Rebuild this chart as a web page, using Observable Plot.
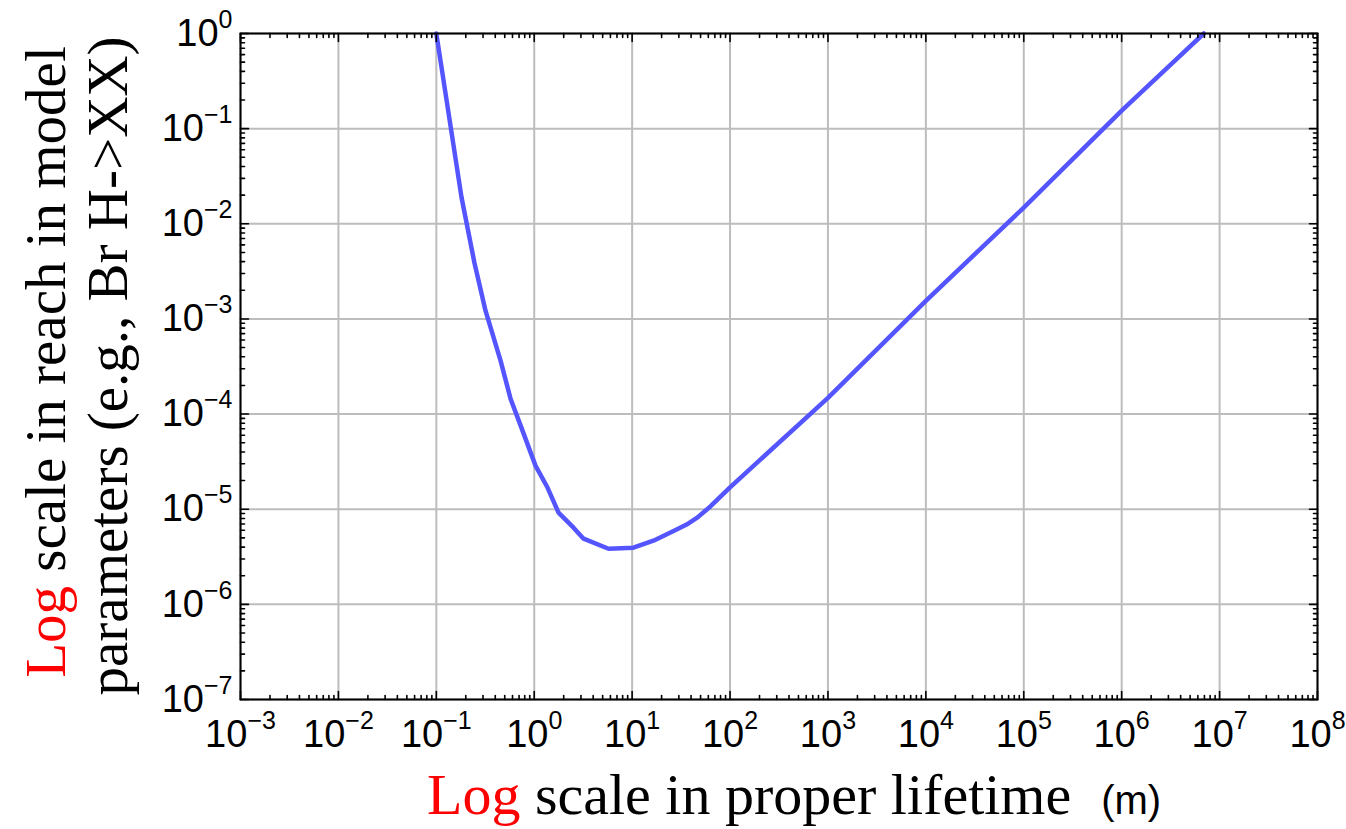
<!DOCTYPE html>
<html>
<head>
<meta charset="utf-8">
<script src="https://cdn.jsdelivr.net/npm/d3@7"></script>
<script src="https://cdn.jsdelivr.net/npm/@observablehq/plot@0.6"></script>
<style>
  html, body { margin: 0; padding: 0; background: white; }
</style>
</head>
<body>
<div id="chart"></div>
<script>
// Curve: proper lifetime (m) vs reach in model parameters
const lifetime = [0.1, 0.181, 0.245, 0.318, 0.453, 0.573, 0.759, 1.03, 1.37, 1.77, 2.52, 3.19, 5.74, 10.3, 16.5, 26.5, 36, 46.6, 63, 100, 1000, 10000, 100000, 1e6, 3.5e6, 6.9e6];
const reach    = [1, 0.0189, 3.9e-3, 1.22e-3, 3.65e-4, 1.45e-4, 6.7e-5, 2.87e-5, 1.68e-5, 9.2e-6, 6.4e-6, 4.9e-6, 3.84e-6, 3.94e-6, 4.67e-6, 5.9e-6, 6.9e-6, 8.2e-6, 1.07e-5, 1.7e-5, 1.48e-4, 1.55e-3, 1.48e-2, 0.155, 0.52, 1];

// Axis tick values
const xExponents = [-3, -2, -1, 0, 1, 2, 3, 4, 5, 6, 7, 8];
const yExponents = [-7, -6, -5, -4, -3, -2, -1, 0];
const minorMultipliers = [2, 3, 4, 5, 6, 7, 8, 9];

const xMajor = xExponents.map(e => Math.pow(10, e));
const yMajor = yExponents.map(e => Math.pow(10, e));
const xMinor = xExponents.slice(0, -1).flatMap(e => minorMultipliers.map(m => m * Math.pow(10, e)));
const yMinor = yExponents.slice(0, -1).flatMap(e => minorMultipliers.map(m => m * Math.pow(10, e)));

const data = lifetime.map((x, i) => ({x, y: reach[i]}));

const tickShape = {draw(context, l) { context.moveTo(0, 0); context.lineTo(0, -l); }};
const fmt = d => "10^" + Math.round(Math.log10(d));

function edgeTicks(values, ch, anchor, rotate, length) {
  return Plot.vector(values, {
    [ch]: d => d, frameAnchor: anchor, rotate, length, anchor: "start",
    shape: tickShape, stroke: "black", strokeWidth: 1.6
  });
}

const plot = Plot.plot({
  width: 1346,
  height: 829,
  marginLeft: 240,
  marginRight: 29,
  marginTop: 33,
  marginBottom: 130,
  style: {fontFamily: "'Liberation Sans', Arial, sans-serif", fontSize: "38px", background: "white", color: "black"},
  x: {type: "log", domain: [1e-3, 1e8], label: null},
  y: {type: "log", domain: [1e-7, 1], label: null},
  marks: [
    Plot.gridX(xMajor, {stroke: "#bdbdbd", strokeOpacity: 1, strokeWidth: 2}),
    Plot.gridY(yMajor, {stroke: "#bdbdbd", strokeOpacity: 1, strokeWidth: 2}),
    Plot.line(data, {x: "x", y: "y", stroke: "#5555ff", strokeWidth: 4.5, strokeLinejoin: "round"}),
    edgeTicks(xMajor, "x", "bottom", 0, 8),
    edgeTicks(xMinor, "x", "bottom", 0, 4),
    edgeTicks(xMajor, "x", "top", 180, 8),
    edgeTicks(xMinor, "x", "top", 180, 4),
    edgeTicks(yMajor, "y", "left", 90, 8),
    edgeTicks(yMinor, "y", "left", 90, 4),
    edgeTicks(yMajor, "y", "right", -90, 8),
    edgeTicks(yMinor, "y", "right", -90, 4),
    Plot.axisX(xMajor, {anchor: "bottom", tickSize: 0, tickPadding: 21, tickFormat: fmt, fontSize: 38, label: null}),
    Plot.axisY(yMajor, {anchor: "left", tickSize: 0, tickPadding: 8, tickFormat: fmt, fontSize: 38, label: null}),
    Plot.frame({stroke: "black", strokeWidth: 2})
  ]
});

const svg = d3.select(plot);

// Turn "10^e" labels into 10 with superscript exponent
svg.selectAll('g[aria-label="x-axis tick label"] text, g[aria-label="y-axis tick label"] text').each(function() {
  const t = this.textContent;
  const m = t.match(/^10\^(-?\d+)$/);
  if (!m) return;
  const e = m[1].replace("-", "\u2212");
  const sel = d3.select(this);
  sel.text(null);
  sel.append("tspan").text("10");
  sel.append("tspan").attr("dy", -18).attr("font-size", 25).text(e);
});

// X axis label
const xl = svg.append("text")
  .attr("x", 427).attr("y", 814)
  .attr("text-anchor", "start")
  .attr("font-family", "'Liberation Serif', 'Times New Roman', serif")
  .attr("font-size", 58)
  .style("white-space", "pre")
  .attr("fill", "black");
xl.append("tspan").attr("fill", "#ff0000").text("Log");
xl.append("tspan").text(" scale in proper lifetime");
xl.append("tspan").attr("dx", 30).attr("font-family", "'Liberation Sans', Arial, sans-serif").attr("font-size", 40).text("(m)");

// Y axis label, two lines
const yl1 = svg.append("text")
  .attr("transform", "translate(65,362) rotate(-90)")
  .attr("text-anchor", "middle")
  .attr("font-family", "'Liberation Serif', 'Times New Roman', serif")
  .attr("font-size", 57)
  .style("white-space", "pre")
  .attr("fill", "black");
yl1.append("tspan").attr("fill", "#ff0000").text("Log");
yl1.append("tspan").text(" scale in reach in model");

svg.append("text")
  .attr("transform", "translate(127,366) rotate(-90)")
  .attr("text-anchor", "middle")
  .attr("font-family", "'Liberation Serif', 'Times New Roman', serif")
  .attr("font-size", 57)
  .attr("fill", "black")
  .text("parameters (e.g., Br H->XX)");

document.getElementById("chart").appendChild(plot);
</script>
</body>
</html>
